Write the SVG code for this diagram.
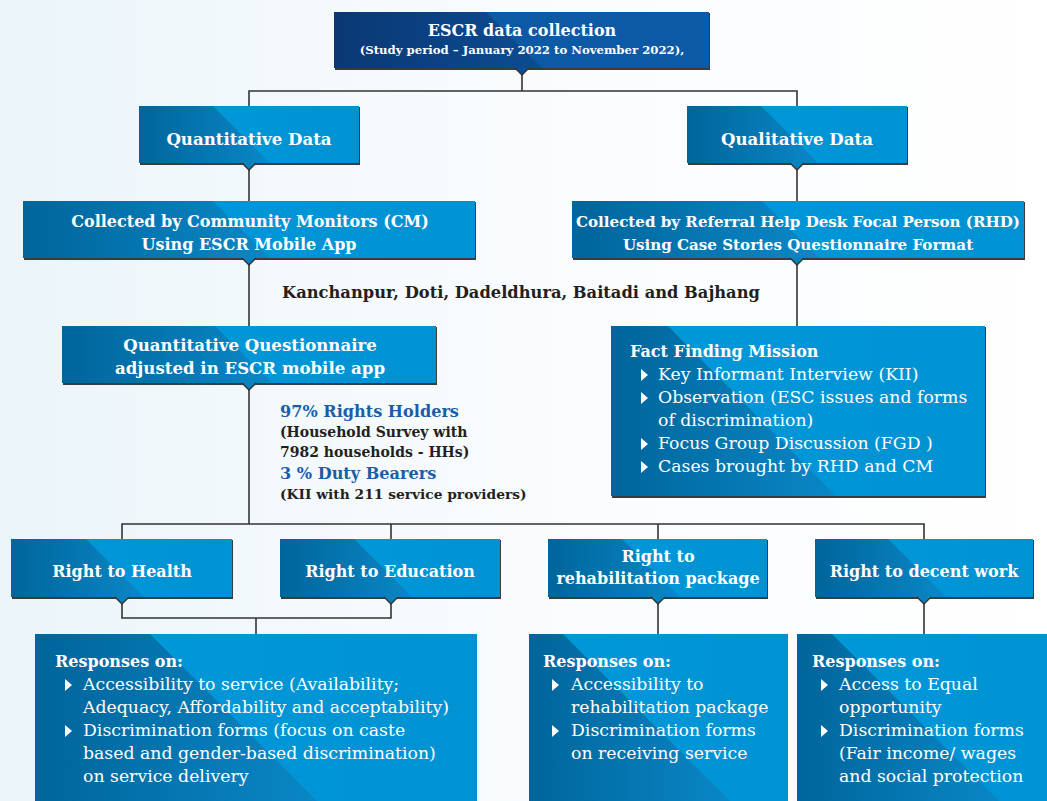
<svg xmlns="http://www.w3.org/2000/svg" width="1047" height="801" viewBox="0 0 1047 801">
<defs>
<linearGradient id="bg" x1="0" y1="0" x2="1" y2="0">
<stop offset="0" stop-color="#ebf5fa"/>
<stop offset="0.45" stop-color="#f8fbfd"/>
<stop offset="1" stop-color="#ffffff"/>
</linearGradient>
<linearGradient id="gl" x1="0" y1="0" x2="1" y2="0">
<stop offset="0" stop-color="#00659b"/>
<stop offset="1" stop-color="#0a87c6"/>
</linearGradient>
<linearGradient id="gr" x1="0" y1="0" x2="1" y2="0">
<stop offset="0" stop-color="#0099da"/>
<stop offset="1" stop-color="#0092d3"/>
</linearGradient>
<linearGradient id="tl" x1="0" y1="0" x2="1" y2="0">
<stop offset="0" stop-color="#0a3874"/>
<stop offset="1" stop-color="#0c4c92"/>
</linearGradient>
<path id="tri" d="M0 -11 L7 -5 L0 1 Z" fill="#ffffff"/>
</defs>
<style>
.sh{fill:#3b3b3b}
.r{fill:url(#gr)}
.l{fill:url(#gl)}
.ptr{fill:#0a80be;stroke:#333;stroke-width:1.4}
.hd{font-family:"DejaVu Serif","Liberation Serif",serif;font-weight:bold;fill:#fff;text-anchor:middle;font-size:16px}
.bt{font-family:"DejaVu Serif","Liberation Serif",serif;fill:#fff;font-size:17.3px}
.bh{font-family:"DejaVu Serif","Liberation Serif",serif;fill:#fff;font-size:16px;font-weight:bold}
.dk{font-family:"DejaVu Serif","Liberation Serif",serif;font-weight:bold;fill:#231f20}
.bl{font-family:"DejaVu Serif","Liberation Serif",serif;font-weight:bold;fill:#1a5ea8;font-size:16.1px}
#connectors path{fill:none;stroke:#333;stroke-width:1.6}
</style>
<rect x="0" y="0" width="1047" height="801" fill="url(#bg)"/>

<g id="connectors">
<path d="M522 75 V91"/>
<path d="M249 106 V91 H797 V106"/>
<path d="M249 170 V201"/>
<path d="M797 170 V201"/>
<path d="M249 265 V326"/>
<path d="M797 265 V326"/>
<path d="M249 390 V524"/>
<path d="M122 539 V524 H924 V539"/>
<path d="M391 524 V539"/>
<path d="M658 524 V539"/>
<path d="M122 604 V618 H391 V604"/>
<path d="M256 618 V634"/>
<path d="M658 604 V634"/>
<path d="M924 604 V634"/>
</g>

<g id="top">
<rect class="sh" x="335" y="13" width="375" height="57"/>
<rect x="334" y="12" width="375" height="56" fill="#0c59a5"/>
<polygon points="334,12 486,12 542,68 334,68" fill="url(#tl)"/>
<path d="M515 68 L522 75 L529 68" fill="#0c4f96" stroke="#333" stroke-width="1.4"/>
<text class="hd" x="522" y="36">ESCR data collection</text>
<text class="hd" x="522" y="54" style="font-size:11.7px">(Study period – January 2022 to November 2022),</text>
</g>

<g id="quant">
<rect class="sh" x="140" y="107" width="220" height="58"/>
<rect class="r" x="139" y="106" width="220" height="57"/>
<polygon class="l" points="139,106 213,106 270,163 139,163"/>
<path class="ptr" d="M242 163 L249 170 L256 163"/>
<text class="hd" x="249" y="145" style="font-size:16.6px">Quantitative Data</text>
</g>

<g id="qual">
<rect class="sh" x="688" y="107" width="220" height="58"/>
<rect class="r" x="687" y="106" width="220" height="57"/>
<polygon class="l" points="687,106 761,106 818,163 687,163"/>
<path class="ptr" d="M790 163 L797 170 L804 163"/>
<text class="hd" x="797" y="145" style="font-size:16.6px">Qualitative Data</text>
</g>

<g id="cm">
<rect class="sh" x="24" y="202" width="452" height="58"/>
<rect class="r" x="23" y="201" width="452" height="57"/>
<polygon class="l" points="23,201 213,201 270,258 23,258"/>
<path class="ptr" d="M242 258 L249 265 L256 258"/>
<text class="hd" x="250" y="227">Collected by Community Monitors (CM)</text>
<text class="hd" x="249" y="250" style="font-size:16px">Using ESCR Mobile App</text>
</g>

<g id="rhd">
<rect class="sh" x="573" y="202" width="452" height="58"/>
<rect class="r" x="572" y="201" width="452" height="57"/>
<polygon class="l" points="572,201 762,201 819,258 572,258"/>
<path class="ptr" d="M790 258 L797 265 L804 258"/>
<text class="hd" x="798" y="227" style="font-size:15.1px">Collected by Referral Help Desk Focal Person (RHD)</text>
<text class="hd" x="798" y="250" style="font-size:15.1px">Using Case Stories Questionnaire Format</text>
</g>

<g id="districts">
<text class="dk" x="521" y="298" text-anchor="middle" style="font-size:16.3px">Kanchanpur, Doti, Dadeldhura, Baitadi and Bajhang</text>
</g>

<g id="questionnaire">
<rect class="sh" x="63" y="327" width="374" height="58"/>
<rect class="r" x="62" y="326" width="374" height="57"/>
<polygon class="l" points="62,326 215,326 272,383 62,383"/>
<path class="ptr" d="M242 383 L249 390 L256 383"/>
<text class="hd" x="250" y="351" style="font-size:16.6px">Quantitative Questionnaire</text>
<text class="hd" x="250" y="374" style="font-size:16.6px">adjusted in ESCR mobile app</text>
</g>

<g id="sample">
<text class="bl" x="280" y="417">97% Rights Holders</text>
<text class="dk" x="280" y="437" style="font-size:14px">(Household Survey with</text>
<text class="dk" x="280" y="457" style="font-size:14px">7982 households - HHs)</text>
<text class="bl" x="280" y="479">3 % Duty Bearers</text>
<text class="dk" x="280" y="499" style="font-size:13.8px">(KII with 211 service providers)</text>
</g>

<g id="fact">
<rect class="sh" x="612" y="327" width="374" height="171"/>
<rect class="r" x="611" y="326" width="374" height="170"/>
<polygon class="l" points="611,326 668,326 836,496 611,496"/>
<text class="bh" x="630" y="357">Fact Finding Mission</text>
<use href="#tri" x="641" y="380"/>
<text class="bt" x="658" y="380">Key Informant Interview (KII)</text>
<use href="#tri" x="641" y="403"/>
<text class="bt" x="658" y="403">Observation (ESC issues and forms</text>
<text class="bt" x="658" y="426">of discrimination)</text>
<use href="#tri" x="641" y="449"/>
<text class="bt" x="658" y="449">Focus Group Discussion (FGD )</text>
<use href="#tri" x="641" y="472"/>
<text class="bt" x="658" y="472">Cases brought by RHD and CM</text>
</g>

<g id="health">
<rect class="sh" x="12" y="540" width="221" height="59"/>
<rect class="r" x="11" y="539" width="221" height="58"/>
<polygon class="l" points="11,539 86,539 144,597 11,597"/>
<path class="ptr" d="M115 597 L122 604 L129 597"/>
<text class="hd" x="122" y="577">Right to Health</text>
</g>

<g id="education">
<rect class="sh" x="281" y="540" width="220" height="59"/>
<rect class="r" x="280" y="539" width="220" height="58"/>
<polygon class="l" points="280,539 354,539 412,597 280,597"/>
<path class="ptr" d="M384 597 L391 604 L398 597"/>
<text class="hd" x="390" y="577">Right to Education</text>
</g>

<g id="rehab">
<rect class="sh" x="549" y="540" width="219" height="59"/>
<rect class="r" x="548" y="539" width="219" height="58"/>
<polygon class="l" points="548,539 622,539 680,597 548,597"/>
<path class="ptr" d="M651 597 L658 604 L665 597"/>
<text class="hd" x="658" y="562">Right to</text>
<text class="hd" x="658" y="584">rehabilitation package</text>
</g>

<g id="work">
<rect class="sh" x="816" y="540" width="218" height="59"/>
<rect class="r" x="815" y="539" width="218" height="58"/>
<polygon class="l" points="815,539 888,539 946,597 815,597"/>
<path class="ptr" d="M917 597 L924 604 L931 597"/>
<text class="hd" x="924" y="577">Right to decent work</text>
</g>

<g id="resp1">
<rect class="r" x="35" y="634" width="442" height="170"/>
<polygon class="l" points="35,634 150,634 320,804 35,804"/>
<text class="bh" x="55" y="667">Responses on:</text>
<use href="#tri" x="65" y="690"/>
<text class="bt" x="83" y="690">Accessibility to service (Availability;</text>
<text class="bt" x="83" y="713">Adequacy, Affordability and acceptability)</text>
<use href="#tri" x="65" y="736"/>
<text class="bt" x="83" y="736">Discrimination forms (focus on caste</text>
<text class="bt" x="83" y="759">based and gender-based discrimination)</text>
<text class="bt" x="83" y="782">on service delivery</text>
</g>

<g id="resp2">
<rect class="r" x="529" y="634" width="259" height="170"/>
<polygon class="l" points="529,634 563,634 733,804 529,804"/>
<text class="bh" x="543" y="667">Responses on:</text>
<use href="#tri" x="552" y="690"/>
<text class="bt" x="571" y="690">Accessibility to</text>
<text class="bt" x="571" y="713">rehabilitation package</text>
<use href="#tri" x="552" y="736"/>
<text class="bt" x="571" y="736">Discrimination forms</text>
<text class="bt" x="571" y="759">on receiving service</text>
</g>

<g id="resp3">
<rect class="r" x="797" y="634" width="250" height="170"/>
<polygon class="l" points="797,634 832,634 1002,804 797,804"/>
<text class="bh" x="812" y="667">Responses on:</text>
<use href="#tri" x="821" y="690"/>
<text class="bt" x="839" y="690">Access to Equal</text>
<text class="bt" x="839" y="713">opportunity</text>
<use href="#tri" x="821" y="736"/>
<text class="bt" x="839" y="736">Discrimination forms</text>
<text class="bt" x="839" y="759">(Fair income/ wages</text>
<text class="bt" x="839" y="782">and social protection</text>
</g>
</svg>
